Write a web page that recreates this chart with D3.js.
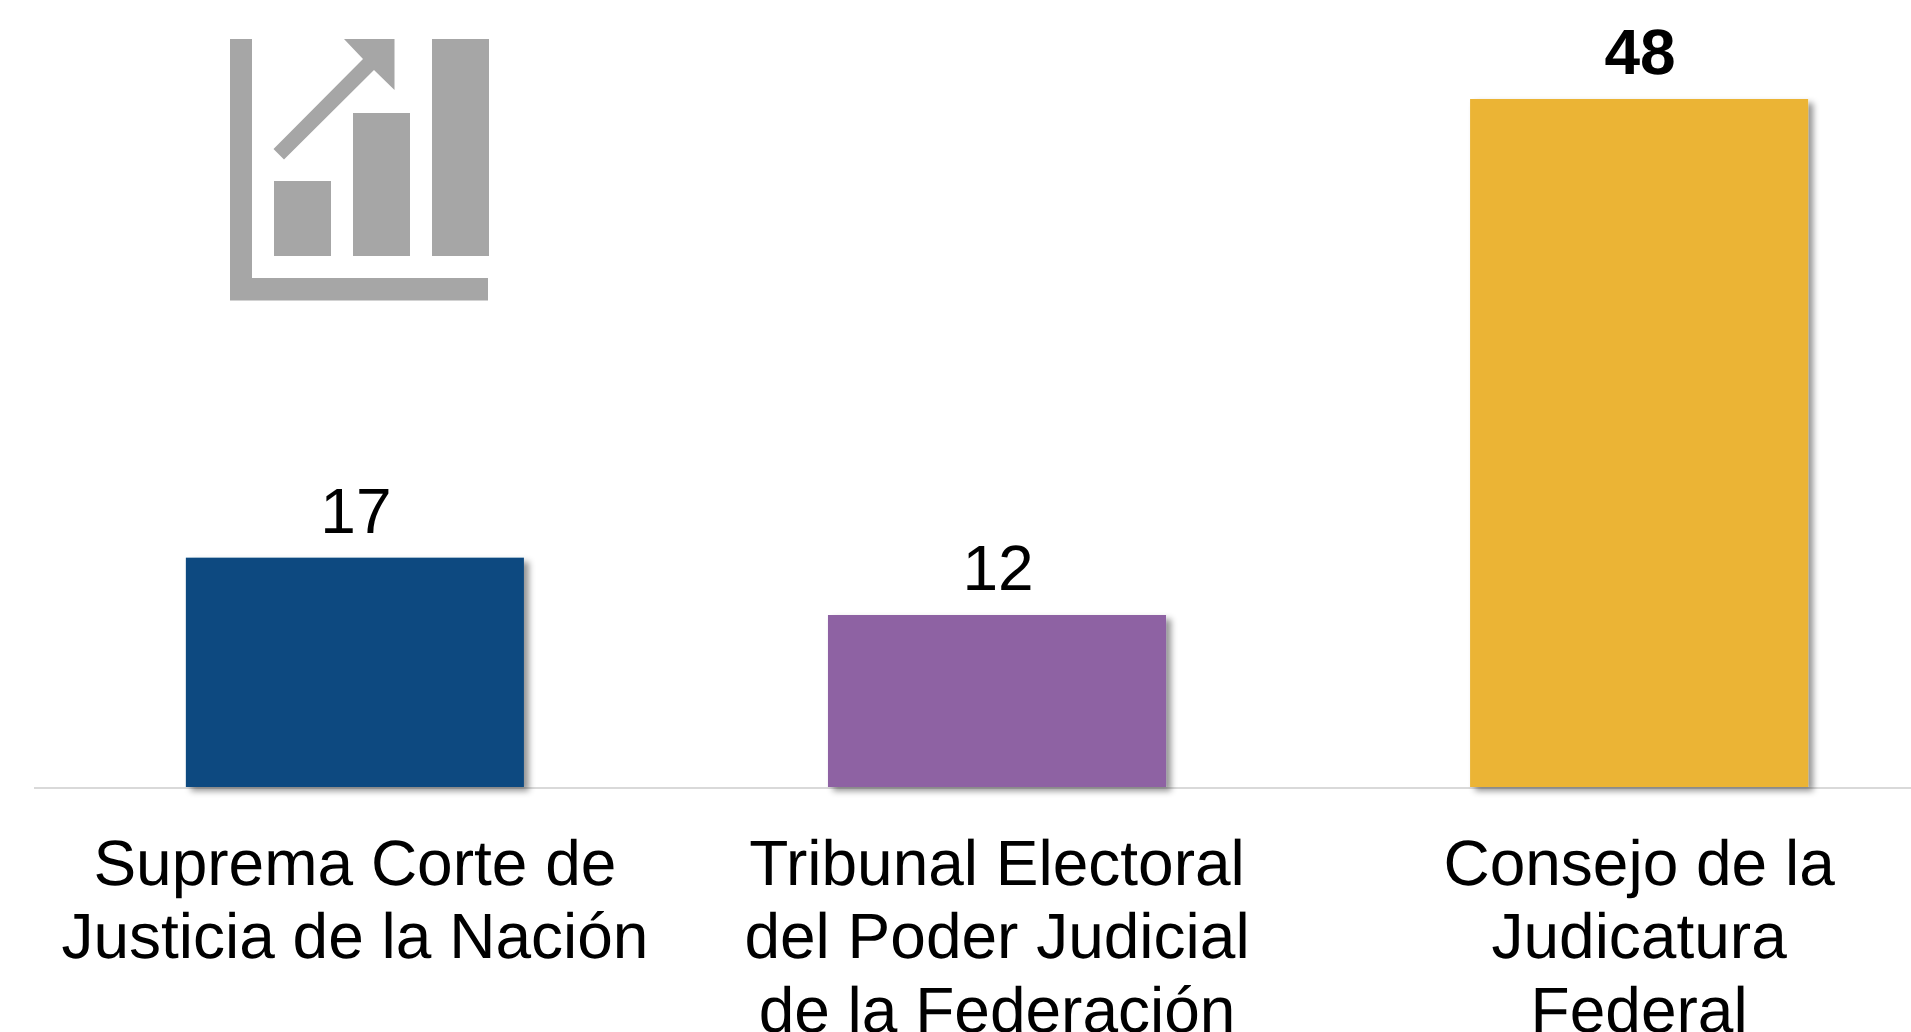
<!DOCTYPE html>
<html><head><meta charset="utf-8">
<script src="https://cdn.jsdelivr.net/npm/d3@7/dist/d3.min.js"></script>
<style>html,body{margin:0;padding:0;background:#fff;overflow:hidden}svg{display:block}text{font-family:"Liberation Sans",Arial,sans-serif;fill:#000;text-rendering:geometricPrecision}</style>
</head><body><svg id="c" width="1911" height="1032"></svg>
<script>
const categories = ["Suprema Corte de|Justicia de la Nación","Tribunal Electoral|del Poder Judicial|de la Federación","Consejo de la|Judicatura|Federal"];
const barHeights = [16, 12, 48];
const valueLabels = ["17", "12", "48"];
const barColors = ["#0A4A80", "#8E62A3", "#EBB436"];
const labelWeights = ["normal", "normal", "bold"];

const svg = d3.select("#c");
const defs = svg.append("defs");
const f = defs.append("filter").attr("id","sh").attr("x","-5%").attr("y","-5%").attr("width","115%").attr("height","115%");
f.append("feDropShadow").attr("dx",5).attr("dy",4).attr("stdDeviation",3).attr("flood-color","#000").attr("flood-opacity",0.42);

const x = d3.scaleBand().domain(categories).range([34,1960]).paddingInner(0.4735).paddingOuter(0.2365);
const y = d3.scaleLinear().domain([0,48]).range([787,99]);

// axis line
svg.append("line").attr("x1",34).attr("x2",1911).attr("y1",788).attr("y2",788).attr("stroke","#D9D9D9").attr("stroke-width",2);

svg.selectAll("rect.bar").data(categories).join("rect").attr("class","bar")
  .attr("x",d=>x(d)).attr("width",x.bandwidth())
  .attr("y",(d,i)=>y(barHeights[i])).attr("height",(d,i)=>y(0)-y(barHeights[i]))
  .attr("fill",(d,i)=>barColors[i]).attr("filter","url(#sh)");

svg.selectAll("text.val").data(categories).join("text").attr("class","val")
  .attr("x",d=>x(d)+x.bandwidth()/2+1).attr("y",(d,i)=>y(barHeights[i])-25)
  .attr("text-anchor","middle").attr("font-size",64).attr("font-weight",(d,i)=>labelWeights[i])
  .text((d,i)=>valueLabels[i]);

categories.forEach(c=>{
  const t = svg.append("text").attr("text-anchor","middle").attr("font-size",64);
  c.split("|").forEach((l,i)=>t.append("tspan").attr("x",x(c)+x.bandwidth()/2).attr("y",884.5+i*73.6).text(l));
});

// pictogram
const ic = svg.append("g").attr("fill","#A6A6A6");
ic.append("path").attr("d","M230 39H252V278H488V300.5H230Z");
[[274,181,57,75],[353,113,57,143],[432,39,57,217]].forEach(r=>ic.append("rect").attr("x",r[0]).attr("y",r[1]).attr("width",r[2]).attr("height",r[3]));
ic.append("path").attr("d","M344 39H394.5V90L374 70L284 159.5L273.5 149L363 59Z");
</script></body></html>
